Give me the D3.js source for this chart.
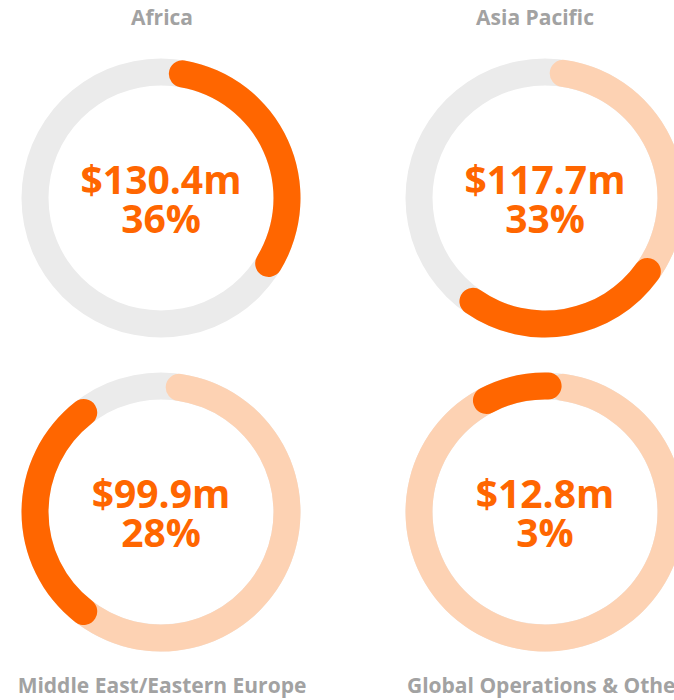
<!DOCTYPE html>
<html>
<head>
<meta charset="utf-8">
<script src="https://cdn.jsdelivr.net/npm/d3@7"></script>
<style>
  body { margin: 0; background: #fff; overflow: hidden; }
  text { font-family: "Open Sans", "Noto Sans", sans-serif; font-weight: 700; }
</style>
</head>
<body>
<svg id="chart" width="674" height="700"></svg>
<script>
// region revenue, as printed in each ring
const regions = ["Africa", "Asia Pacific", "Middle East/Eastern Europe", "Global Operations & Other"];
const amounts = [130.4, 117.7, 99.9, 12.8];       // $m
const shares = [36, 33, 28, 3];                   // %
// where each region's dark arc sits on its ring, as drawn (fraction of a full turn)
const arcStart = [0.010, 0.332, 0.588, 0.906];
const arcEnd = [0.354, 0.614, 0.912, 1.021];
const ringStart = 0.006;

const width = 674, height = 700;
const rOuter = 139.5, rInner = 112.5;
const centers = [[161, 198], [545, 198], [161, 512], [545, 512]];
const titleY = [25, 25, 693, 693];
const titleShift = [1, -10, 1, 1];

const svg = d3.select("#chart");

const turn = d3.scaleLinear().domain([0, 1]).range([0, 2 * Math.PI]);

const ring = d3.arc()
    .innerRadius(rInner)
    .outerRadius(rOuter)
    .cornerRadius((rOuter - rInner) / 2);

const plain = d3.arc()
    .innerRadius(rInner)
    .outerRadius(rOuter);

regions.forEach((name, i) => {
    const [cx, cy] = centers[i];
    const g = svg.append("g").attr("transform", `translate(${cx},${cy})`);

    // grey background ring
    g.append("path")
        .attr("d", plain({ startAngle: 0, endAngle: 2 * Math.PI }))
        .attr("fill", "#ebebeb");

    // regions before this one, in light orange
    if (i > 0) {
        g.append("path")
            .attr("d", ring({ startAngle: turn(ringStart), endAngle: turn(arcStart[i] + 0.04) }))
            .attr("fill", "#fdd2b3");
    }

    // this region
    g.append("path")
        .attr("d", ring({ startAngle: turn(arcStart[i]), endAngle: turn(arcEnd[i]) }))
        .attr("fill", "#ff6600");

    g.append("text")
        .attr("y", -4)
        .attr("text-anchor", "middle")
        .attr("font-size", 39)
        .attr("fill", "#ff6600")
        .text(`$${d3.format(".1f")(amounts[i])}m`);

    g.append("text")
        .attr("y", 35)
        .attr("text-anchor", "middle")
        .attr("font-size", 39)
        .attr("fill", "#ff6600")
        .text(`${shares[i]}%`);

    svg.append("text")
        .attr("x", cx + titleShift[i])
        .attr("y", titleY[i])
        .attr("text-anchor", "middle")
        .attr("font-size", 21)
        .attr("fill", "#a2a2a2")
        .text(name);
});
</script>
</body>
</html>
